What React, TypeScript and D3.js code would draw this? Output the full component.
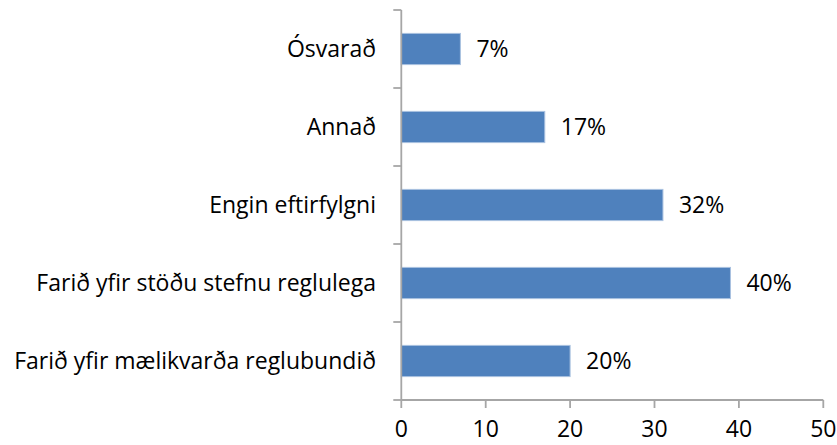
import React from 'react';
import * as d3 from 'd3';

const categories = [
  'Ósvarað',
  'Annað',
  'Engin eftirfylgni',
  'Farið yfir stöðu stefnu reglulega',
  'Farið yfir mælikvarða reglubundið',
];
const values = [7, 17, 31, 39, 20];
const valueLabels = ['7%', '17%', '32%', '40%', '20%'];
const xTicks = [0, 10, 20, 30, 40, 50];

const width = 837;
const height = 445;
const font = '"Open Sans", Lato, sans-serif';
const fontSize = 23;
const axisColor = '#a6a6a6';

export default function App() {
  const x = d3.scaleLinear().domain([0, 50]).range([401.3, 823.3]);
  const y = d3.scaleBand<string>()
    .domain(categories)
    .range([10, 400])
    .paddingInner(0.6)
    .paddingOuter(0.3);

  const step = y.step();
  // boundaries between categories for the y axis ticks
  const bounds = categories.map(c => y(c)! + y.bandwidth() / 2 - step / 2);
  bounds.push(y(categories[categories.length - 1])! + y.bandwidth() / 2 + step / 2);

  return (
    <svg width={width} height={height} style={{ position: 'absolute', left: 0, top: 0 }}>
      <rect width={width} height={height} fill="#fff" />

      {/* bars */}
      {categories.map((c, i) => (
        <rect key={c}
          x={x(0)} y={y(c)}
          width={x(values[i]) - x(0)} height={y.bandwidth()}
          fill="#4f81bd" stroke="#a9c1e0" strokeWidth={1} />
      ))}

      {/* value labels */}
      {categories.map((c, i) => (
        <text key={c} x={x(values[i]) + 16} y={y(c)! + y.bandwidth() / 2}
          dy="0.35em" fontFamily={font} fontSize={fontSize} fill="#000">
          {valueLabels[i]}
        </text>
      ))}

      {/* y axis */}
      <line x1={x(0)} x2={x(0)} y1={bounds[0]} y2={bounds[bounds.length - 1]}
        stroke={axisColor} strokeWidth={1.8} />
      {bounds.map((b, i) => (
        <line key={i} x1={x(0) - 8} x2={x(0)} y1={b} y2={b} stroke={axisColor} strokeWidth={1.8} />
      ))}
      {categories.map(c => (
        <text key={c} x={376} y={y(c)! + y.bandwidth() / 2} dy="0.35em"
          textAnchor="end" fontFamily={font} fontSize={fontSize} fill="#000">
          {c}
        </text>
      ))}

      {/* x axis */}
      <line x1={x(0)} x2={x(50)} y1={400} y2={400} stroke={axisColor} strokeWidth={1.8} />
      {xTicks.map(t => (
        <g key={t}>
          <line x1={x(t)} x2={x(t)} y1={400} y2={408} stroke={axisColor} strokeWidth={1.8} />
          <text x={x(t)} y={437} textAnchor="middle" fontFamily={font} fontSize={fontSize} fill="#000">
            {t}
          </text>
        </g>
      ))}
    </svg>
  );
}
